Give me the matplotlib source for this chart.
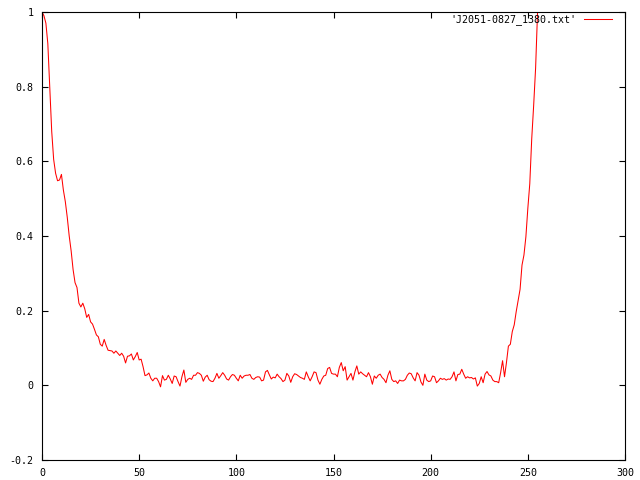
import numpy as np
import matplotlib
matplotlib.use("Agg")
import matplotlib.pyplot as plt

# profile values, one per bin (x = 0..255)
head = [1.0, 0.99, 0.97, 0.915, 0.80, 0.68, 0.605, 0.568, 0.548, 0.55,
        0.565, 0.523, 0.492, 0.45, 0.40, 0.36, 0.31, 0.275, 0.262, 0.22,
        0.21, 0.22, 0.205, 0.182, 0.19, 0.17, 0.164, 0.15, 0.135, 0.13,
        0.11, 0.105, 0.123, 0.107, 0.094, 0.093, 0.092, 0.086, 0.092, 0.086,
        0.08, 0.086, 0.078, 0.06, 0.078, 0.079, 0.084, 0.068, 0.077, 0.088,
        0.068, 0.07, 0.05, 0.026, 0.028, 0.033]
floor = [0.019, 0.012, 0.019, 0.019, 0.010, -0.004, 0.026, 0.014, 0.016, 0.027,
         0.017, 0.005, 0.025, 0.023, 0.010, -0.002, 0.023, 0.041, 0.008, 0.016,
         0.019, 0.016, 0.027, 0.027, 0.034, 0.032, 0.027, 0.011, 0.022, 0.027,
         0.015, 0.011, 0.010, 0.019, 0.032, 0.019, 0.026, 0.034, 0.027, 0.017,
         0.014, 0.023, 0.029, 0.027, 0.019, 0.012, 0.027, 0.019, 0.025, 0.027,
         0.027, 0.029, 0.019, 0.016, 0.021, 0.023, 0.022, 0.012, 0.014, 0.036,
         0.040, 0.028, 0.017, 0.022, 0.020, 0.030, 0.023, 0.018, 0.010, 0.014,
         0.032, 0.025, 0.008, 0.023, 0.031, 0.029, 0.025, 0.021, 0.019, 0.016,
         0.036, 0.023, 0.012, 0.023, 0.036, 0.034, 0.014, 0.003, 0.016, 0.025,
         0.027, 0.045, 0.048, 0.032, 0.030, 0.030, 0.023, 0.048, 0.061, 0.039,
         0.050, 0.014, 0.023, 0.032, 0.014, 0.036, 0.052, 0.030, 0.036, 0.031,
         0.027, 0.023, 0.034, 0.023, 0.003, 0.025, 0.019, 0.027, 0.030, 0.021,
         0.016, 0.007, 0.027, 0.039, 0.016, 0.010, 0.012, 0.005, 0.014, 0.012,
         0.012, 0.016, 0.027, 0.033, 0.031, 0.020, 0.012, 0.034, 0.027, 0.009,
         0.000, 0.030, 0.014, 0.010, 0.012, 0.025, 0.023, 0.007, 0.012, 0.019,
         0.016, 0.018, 0.014, 0.017, 0.016, 0.023, 0.036, 0.012, 0.029, 0.030,
         0.043, 0.030, 0.019, 0.023, 0.020, 0.021, 0.017, 0.020, -0.002, 0.005]
tail = [0.023, 0.007, 0.030, 0.037, 0.028, 0.025, 0.014, 0.010, 0.010, 0.007,
        0.034, 0.066, 0.023, 0.061, 0.105, 0.11, 0.144, 0.162, 0.197, 0.227,
        0.257, 0.322, 0.349, 0.398, 0.474, 0.54, 0.66, 0.75, 0.85, 1.0]

profile = head + floor + tail
bins = np.arange(len(profile))
label = "'J2051-0827_1380.txt'"

xticks = [0, 50, 100, 150, 200, 250, 300]
yticks = [-0.2, 0, 0.2, 0.4, 0.6, 0.8, 1]
yticklabels = ["-0.2", "0", "0.2", "0.4", "0.6", "0.8", "1"]

plt.rcParams["font.family"] = "DejaVu Sans Mono"
plt.rcParams["font.size"] = 7.2

fig = plt.figure(figsize=(6.4, 4.8), dpi=100)
ax = fig.add_axes([42 / 640, 20 / 480, 583 / 640, 448 / 480])

ax.plot(bins, profile, color="#ff0000", lw=0.75, label=label)

ax.set_xlim(0, 300)
ax.set_ylim(-0.2, 1)
ax.set_xticks(xticks)
ax.set_yticks(yticks)
ax.set_yticklabels(yticklabels)
ax.tick_params(direction="in", length=4, width=0.8, top=True, right=True,
               pad=6, colors="black")
for s in ax.spines.values():
    s.set_linewidth(0.8)

ax.legend(loc="upper right", bbox_to_anchor=(0.978, 0.995), frameon=False,
          markerfirst=False, handlelength=2.8, borderaxespad=0, borderpad=0,
          handletextpad=0.8)

fig.savefig("out.png", dpi=100)
